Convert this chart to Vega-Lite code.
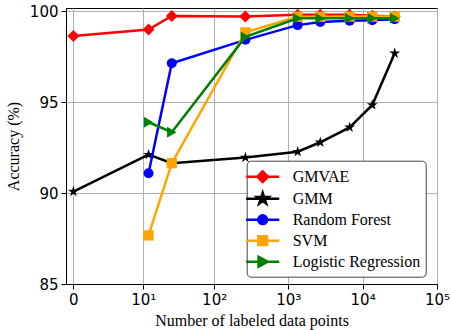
{
  "$schema": "https://vega.github.io/schema/vega-lite/v6.json",
  "width": 371,
  "height": 276,
  "autosize": {"type": "none"},
  "padding": {"left": 66, "top": 8, "right": 14, "bottom": 46},
  "background": "white",
  "config": {
    "view": {"stroke": "black", "strokeWidth": 1},
    "axis": {
      "labelFont": "DejaVu Sans",
      "labelFontSize": 15,
      "labelColor": "black",
      "titleFont": "Liberation Serif",
      "titleFontSize": 16,
      "titleFontWeight": "normal",
      "titleColor": "black",
      "domainColor": "black",
      "tickColor": "black",
      "tickSize": 5,
      "gridColor": "#b0b0b0",
      "gridWidth": 1,
      "gridOpacity": 1,
      "labelFlush": false,
      "labelOverlap": false
    },
    "legend": {
      "labelFont": "Liberation Serif",
      "labelFontSize": 16,
      "labelColor": "black",
      "labelLimit": 300
    }
  },
  "data": {
    "values": [
      {"series": "GMVAE", "n": 0, "acc": 98.63},
      {"series": "GMVAE", "n": 12, "acc": 98.99},
      {"series": "GMVAE", "n": 26, "acc": 99.73},
      {"series": "GMVAE", "n": 265, "acc": 99.7},
      {"series": "GMVAE", "n": 1340, "acc": 99.8},
      {"series": "GMVAE", "n": 2700, "acc": 99.8},
      {"series": "GMVAE", "n": 6700, "acc": 99.8},
      {"series": "GMVAE", "n": 13500, "acc": 99.75},
      {"series": "GMVAE", "n": 27000, "acc": 99.7},
      {"series": "GMM", "n": 0, "acc": 90.08},
      {"series": "GMM", "n": 12, "acc": 92.11},
      {"series": "GMM", "n": 26, "acc": 91.64},
      {"series": "GMM", "n": 265, "acc": 91.95},
      {"series": "GMM", "n": 1340, "acc": 92.27},
      {"series": "GMM", "n": 2700, "acc": 92.79},
      {"series": "GMM", "n": 6700, "acc": 93.61},
      {"series": "GMM", "n": 13500, "acc": 94.84},
      {"series": "GMM", "n": 27000, "acc": 97.68},
      {"series": "Random Forest", "n": 12, "acc": 91.09},
      {"series": "Random Forest", "n": 26, "acc": 97.13},
      {"series": "Random Forest", "n": 265, "acc": 98.42},
      {"series": "Random Forest", "n": 1340, "acc": 99.23},
      {"series": "Random Forest", "n": 2700, "acc": 99.4},
      {"series": "Random Forest", "n": 6700, "acc": 99.47},
      {"series": "Random Forest", "n": 13500, "acc": 99.5},
      {"series": "Random Forest", "n": 27000, "acc": 99.55},
      {"series": "SVM", "n": 12, "acc": 87.67},
      {"series": "SVM", "n": 26, "acc": 91.64},
      {"series": "SVM", "n": 265, "acc": 98.83},
      {"series": "SVM", "n": 1340, "acc": 99.69},
      {"series": "SVM", "n": 2700, "acc": 99.69},
      {"series": "SVM", "n": 6700, "acc": 99.7},
      {"series": "SVM", "n": 13500, "acc": 99.7},
      {"series": "SVM", "n": 27000, "acc": 99.7},
      {"series": "Logistic Regression", "n": 12, "acc": 93.89},
      {"series": "Logistic Regression", "n": 26, "acc": 93.34},
      {"series": "Logistic Regression", "n": 265, "acc": 98.58},
      {"series": "Logistic Regression", "n": 1340, "acc": 99.6},
      {"series": "Logistic Regression", "n": 2700, "acc": 99.6},
      {"series": "Logistic Regression", "n": 6700, "acc": 99.6},
      {"series": "Logistic Regression", "n": 13500, "acc": 99.6},
      {"series": "Logistic Regression", "n": 27000, "acc": 99.6}
    ]
  },
  "encoding": {
    "x": {
      "field": "n",
      "type": "quantitative",
      "scale": {"type": "symlog", "constant": 1.3, "domain": [-0.334, 100000], "nice": false, "zero": false},
      "axis": {
        "values": [0, 10, 100, 1000, 10000, 100000],
        "labelExpr": "datum.value == 0 ? '0' : datum.value == 10 ? '10¹' : datum.value == 100 ? '10²' : datum.value == 1000 ? '10³' : datum.value == 10000 ? '10⁴' : '10⁵'",
        "title": "Number of labeled data points",
        "labelPadding": 3,
        "titlePadding": 5
      }
    },
    "y": {
      "field": "acc",
      "type": "quantitative",
      "scale": {"domain": [85, 100.17], "nice": false, "zero": false},
      "axis": {
        "values": [85, 90, 95, 100],
        "title": "Accuracy (%)",
        "labelPadding": 3,
        "titlePadding": 8
      }
    }
  },
  "layer": [
    {
      "transform": [{"filter": {"field": "series", "equal": "GMVAE"}}],
      "layer": [
        {"mark": {"type": "line", "color": "#ff0000", "strokeWidth": 2.5}},
        {"mark": {"type": "point", "shape": "diamond", "filled": true, "size": 144, "color": "#ff0000", "opacity": 1}}
      ]
    },
    {
      "transform": [{"filter": {"field": "series", "equal": "GMM"}}],
      "layer": [
        {"mark": {"type": "line", "color": "#000000", "strokeWidth": 2.5}},
        {"mark": {"type": "point", "shape": "M0,-1L0.225,-0.309L0.951,-0.309L0.363,0.118L0.588,0.809L0,0.382L-0.588,0.809L-0.363,0.118L-0.951,-0.309L-0.225,-0.309Z", "filled": true, "size": 130, "color": "#000000", "opacity": 1}}
      ]
    },
    {
      "transform": [{"filter": {"field": "series", "equal": "Random Forest"}}],
      "layer": [
        {"mark": {"type": "line", "color": "#0000ff", "strokeWidth": 2.5}},
        {"mark": {"type": "point", "shape": "circle", "filled": true, "size": 100, "color": "#0000ff", "opacity": 1}}
      ]
    },
    {
      "transform": [{"filter": {"field": "series", "equal": "SVM"}}],
      "layer": [
        {"mark": {"type": "line", "color": "#ffa500", "strokeWidth": 2.5}},
        {"mark": {"type": "point", "shape": "square", "filled": true, "size": 106, "color": "#ffa500", "opacity": 1}}
      ]
    },
    {
      "transform": [{"filter": {"field": "series", "equal": "Logistic Regression"}}],
      "layer": [
        {"mark": {"type": "line", "color": "#008000", "strokeWidth": 2.5}},
        {"mark": {"type": "point", "shape": "triangle-right", "filled": true, "size": 120, "color": "#008000", "opacity": 1}}
      ]
    },
    {
      "mark": {"type": "point", "filled": true, "opacity": 0},
      "encoding": {
        "color": {
          "field": "series",
          "type": "nominal",
          "scale": {
            "domain": ["GMVAE", "GMM", "Random Forest", "SVM", "Logistic Regression"],
            "range": ["#ff0000", "#000000", "#0000ff", "#ffa500", "#008000"]
          },
          "legend": {
            "orient": "none",
            "legendX": 180.7,
            "legendY": 152.7,
            "title": null,
            "labelFont": "Liberation Serif",
            "labelFontSize": 16,
            "labelColor": "black",
            "symbolSize": 380,
            "symbolStrokeWidth": 2.5,
            "symbolOpacity": 1,
            "labelOffset": 19,
            "rowPadding": 0,
            "padding": 5,
            "fillColor": "white",
            "strokeColor": "#444444",
            "cornerRadius": 4,
            "encode": {
              "labels": {
                "update": {
                  "font": {"value": "Liberation Serif"},
                  "fontSize": {"value": 16}
                }
              },
              "symbols": {
                "update": {
                  "fill": {"scale": "color", "field": "value"},
                  "stroke": {"scale": "color", "field": "value"},
                  "strokeWidth": {"value": 2.5},
                  "opacity": {"value": 1},
                  "fillOpacity": {"value": 1},
                  "strokeOpacity": {"value": 1}
                }
              }
            }
          }
        },
        "shape": {
          "field": "series",
          "type": "nominal",
          "scale": {
            "domain": ["GMVAE", "GMM", "Random Forest", "SVM", "Logistic Regression"],
            "range": [
              "M-1.7,0H1.7M0,-0.55L0.55,0L0,0.55L-0.55,0Z",
              "M-1.7,0H1.7M0,-0.6L0.135,-0.185L0.571,-0.185L0.218,0.071L0.353,0.485L0,0.229L-0.353,0.485L-0.218,0.071L-0.571,-0.185L-0.135,-0.185Z",
              "M-1.7,0H1.7M0.45,0A0.45,0.45 0 1,1 -0.45,0A0.45,0.45 0 1,1 0.45,0Z",
              "M-1.7,0H1.7M-0.45,-0.45H0.45V0.45H-0.45Z",
              "M-1.7,0H1.7M0.5,0L-0.42,-0.5L-0.42,0.5Z"
            ]
          }
        }
      }
    }
  ]
}
